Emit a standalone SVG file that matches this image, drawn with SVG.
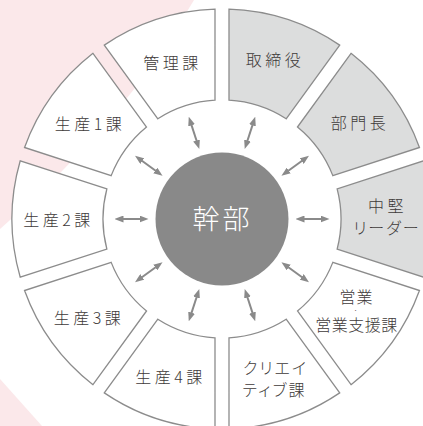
<svg xmlns="http://www.w3.org/2000/svg" width="423" height="426" viewBox="0 0 423 426">
  <style>
    .seg { fill: #ffffff; stroke: #8c8c8c; stroke-width: 1.3; stroke-linejoin: miter; }
    .seg.g { fill: #dcdddd; }
    .lbl { font-family: "Noto Sans CJK JP", "Noto Sans", sans-serif; font-weight: 300; font-size: 16px; fill: #3e3a39; text-anchor: middle; letter-spacing: 3.5px; }
    .kana { font-feature-settings: "palt"; letter-spacing: 2px; }
    .conn line { stroke: #8a8a8a; stroke-width: 2; marker-start: url(#ah); marker-end: url(#ah); }
  </style>
  <defs>
    <marker id="ah" viewBox="0 0 9 7" refX="0.5" refY="3.5" markerWidth="9" markerHeight="7" markerUnits="userSpaceOnUse" orient="auto-start-reverse">
      <path d="M0,0 L9,3.5 L0,7 Z" fill="#8a8a8a"/>
    </marker>
  </defs>

  <rect x="0" y="0" width="423" height="426" fill="#ffffff"/>
  <g id="background">
    <path d="M0,0 L194,0 Q124,122 0,229 Z" fill="#fbe8ea"/>
    <path d="M0,379 L42,426 L0,426 Z" fill="#fbe8ea"/>
  </g>

  <g id="node-chuken">
    <path class="seg g" d="M337.14,249.05 L423.77,277.20 A210,210 0 0,0 423.77,160.80 L337.14,188.95 A119,119 0 0,1 337.14,249.05 Z"/>
    <text class="lbl" x="387.5" y="212">中堅</text>
    <text class="lbl kana" x="387" y="234.3">リーダー</text>
  </g>
  <g id="node-buchou">
    <path class="seg g" d="M332.82,175.63 L419.45,147.49 A210,210 0 0,0 351.03,53.32 L297.49,127.01 A119,119 0 0,1 332.82,175.63 Z"/>
    <text class="lbl" x="360" y="128.7">部門長</text>
  </g>
  <g id="node-torishimariyaku">
    <path class="seg g" d="M286.16,118.78 L339.70,45.09 A210,210 0 0,0 229,9.12 L229,100.21 A119,119 0 0,1 286.16,118.78 Z"/>
    <text class="lbl" x="275" y="66">取締役</text>
  </g>
  <g id="node-kanri">
    <path class="seg" d="M215,100.21 L215,9.12 A210,210 0 0,0 104.30,45.09 L157.84,118.78 A119,119 0 0,1 215,100.21 Z"/>
    <text class="lbl" x="172.5" y="69.3">管理課</text>
  </g>
  <g id="node-seisan1">
    <path class="seg" d="M146.51,127.01 L92.97,53.32 A210,210 0 0,0 24.55,147.49 L111.18,175.63 A119,119 0 0,1 146.51,127.01 Z"/>
    <text class="lbl" x="90" y="130">生産1課</text>
  </g>
  <g id="node-seisan2">
    <path class="seg" d="M106.86,188.95 L20.23,160.80 A210,210 0 0,0 20.23,277.20 L106.86,249.05 A119,119 0 0,1 106.86,188.95 Z"/>
    <text class="lbl" x="58.5" y="226">生産2課</text>
  </g>
  <g id="node-seisan3">
    <path class="seg" d="M111.18,262.37 L24.55,290.52 A210,210 0 0,0 92.97,384.69 L146.51,310.99 A119,119 0 0,1 111.18,262.37 Z"/>
    <text class="lbl" x="89" y="324.3">生産3課</text>
  </g>
  <g id="node-seisan4">
    <path class="seg" d="M157.84,319.22 L104.30,392.91 A210,210 0 0,0 215,428.88 L215,337.79 A119,119 0 0,1 157.84,319.22 Z"/>
    <text class="lbl" x="170.5" y="382.7">生産4課</text>
  </g>
  <g id="node-creative">
    <path class="seg" d="M229,337.79 L229,428.88 A210,210 0 0,0 339.70,392.91 L286.16,319.22 A119,119 0 0,1 229,337.79 Z"/>
    <text class="lbl kana" x="243" y="374.3" style="text-anchor:start">クリエイ</text>
    <text class="lbl kana" x="242.5" y="396" style="text-anchor:start">ティブ課</text>
  </g>
  <g id="node-eigyou">
    <path class="seg" d="M297.49,310.99 L351.03,384.69 A210,210 0 0,0 419.45,290.52 L332.82,262.37 A119,119 0 0,1 297.49,310.99 Z"/>
    <text class="lbl" x="356.5" y="303" style="letter-spacing:1px">営業</text>
    <text x="355.7" y="311.5" font-family="Liberation Sans, sans-serif" font-size="6" font-weight="700" fill="#3e3a39" text-anchor="middle">·</text>
    <text class="lbl" x="356.5" y="331" style="letter-spacing:0.5px">営業支援課</text>
  </g>

  <g id="node-kanbu">
    <circle cx="222" cy="219" r="66.5" fill="#898989"/>
    <text x="222.5" y="229" font-family="Noto Sans CJK JP, Noto Sans, sans-serif" font-weight="300" font-size="27" fill="#ffffff" text-anchor="middle" letter-spacing="3">幹部</text>
  </g>

  <g id="connectors" class="conn">
    <line x1="304" y1="219" x2="321" y2="219"/>
    <line x1="288.34" y1="170.80" x2="302.09" y2="160.81"/>
    <line x1="247.34" y1="141.01" x2="252.59" y2="124.85"/>
    <line x1="196.66" y1="141.01" x2="191.41" y2="124.85"/>
    <line x1="155.66" y1="170.80" x2="141.91" y2="160.81"/>
    <line x1="140" y1="219" x2="123" y2="219"/>
    <line x1="155.66" y1="267.20" x2="141.91" y2="277.19"/>
    <line x1="196.66" y1="296.99" x2="191.41" y2="313.15"/>
    <line x1="247.34" y1="296.99" x2="252.59" y2="313.15"/>
    <line x1="288.34" y1="267.20" x2="302.09" y2="277.19"/>
  </g>
</svg>
